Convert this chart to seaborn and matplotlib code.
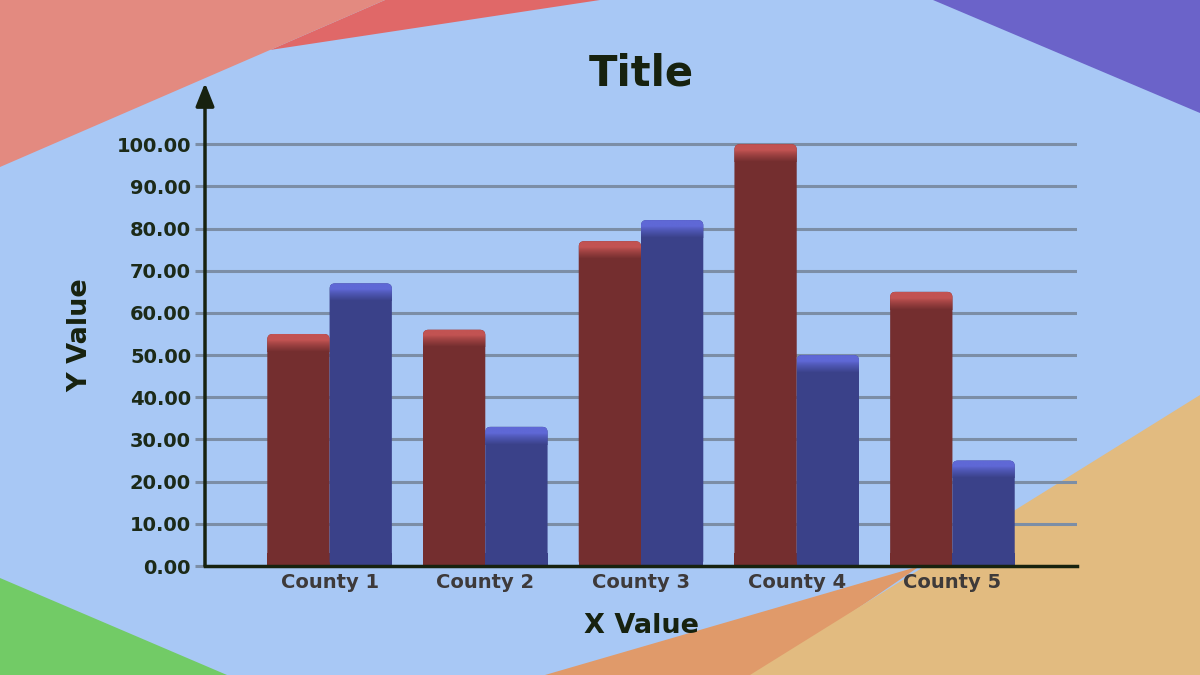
import numpy as np
import pandas as pd
import seaborn as sns
import matplotlib.pyplot as plt
from matplotlib.patches import Polygon, FancyBboxPatch, FancyArrowPatch
from matplotlib.colors import to_rgb

# Data
counties = ["County 1", "County 2", "County 3", "County 4", "County 5"]
series_a = [55, 56, 77, 100, 65]
series_b = [67, 33, 82, 50, 25]
series_names = ["Series A", "Series B"]
y_ticks = [0, 10, 20, 30, 40, 50, 60, 70, 80, 90, 100]

# Style
BG = "#a8c8f5"
BAR_COLORS = ["#742e2f", "#3a4189"]
CAP_COLORS = ["#c25352", "#5f68d6"]
AXIS_COLOR = "#17220f"
GRID_COLOR = "#7c8ea6"
FONT = ["DejaVu Sans"]

sns.set_theme(style="white")
plt.rcParams["font.family"] = FONT

df = pd.DataFrame({
    "county": counties * 2,
    "series": [series_names[0]] * len(counties) + [series_names[1]] * len(counties),
    "value": series_a + series_b,
})

fig = plt.figure(figsize=(12, 6.75), dpi=100)
fig.patch.set_facecolor(BG)

# decorative background shapes (pixel coords, y down)
bg = fig.add_axes([0, 0, 1, 1], zorder=-5)
bg.set_xlim(0, 1200)
bg.set_ylim(675, 0)
bg.axis("off")
shapes = [
    ([(270, 50), (385, 0), (600, 0)], "#e06868"),
    ([(0, 0), (385, 0), (270, 50), (0, 167)], "#e38a80"),
    ([(933, 0), (1200, 0), (1200, 113)], "#6b63c9"),
    ([(0, 578), (227, 675), (0, 675)], "#72cb66"),
    ([(545, 675), (920, 566), (760, 675)], "#e09a6a"),
    ([(750, 675), (1200, 395), (1200, 675)], "#e2bb80"),
]
for pts, col in shapes:
    bg.add_patch(Polygon(pts, closed=True, facecolor=col, edgecolor="none"))

ax = fig.add_axes([205 / 1200, 1 - 566 / 675, (1077 - 205) / 1200, (566 - 83) / 675])
ax.set_facecolor("none")

sns.barplot(data=df, x="county", y="value", hue="series", hue_order=series_names,
            palette=BAR_COLORS, width=0.8, legend=False, ax=ax, zorder=3)

XLIM = (-0.8, 4.8)
YLIM = (0, 114.5)

# rounded tops + lighter gradient cap
bars = list(ax.patches)
for i, bar in enumerate(bars):
    k = 0 if i < len(counties) else 1
    x, w, h = bar.get_x(), bar.get_width(), bar.get_height()
    bar.set_visible(False)
    fb = FancyBboxPatch((x, 0), w, h, boxstyle="round,pad=0,rounding_size=0.035",
                        mutation_aspect=36, facecolor=BAR_COLORS[k],
                        edgecolor="none", zorder=3)
    ax.add_patch(fb)
    # square off the bottom corners
    ax.bar(x + w / 2, min(h, 3), width=w, color=BAR_COLORS[k],
           edgecolor="none", linewidth=0, zorder=3)
    base = np.array(to_rgb(BAR_COLORS[k]))
    light = np.array(to_rgb(CAP_COLORS[k]))
    t = np.linspace(0, 1, 40)
    t = np.clip((t - 0.35) / 0.65, 0, 1) ** 0.8
    grad = light[None, :] * (1 - t[:, None]) + base[None, :] * t[:, None]
    cap = 4.2
    im = ax.imshow(grad[:, None, :], extent=(x, x + w, h - cap, h), origin="upper",
                   aspect="auto", interpolation="bilinear", zorder=4)
    im.set_clip_path(fb)

ax.set_xlim(*XLIM)
ax.set_ylim(*YLIM)

# grid + ticks
ax.set_yticks(y_ticks)
ax.set_yticklabels([f"{v:.2f}" for v in y_ticks])
for v in y_ticks[1:]:
    ax.axhline(v, color=GRID_COLOR, lw=2.2, zorder=1)
ax.tick_params(axis="y", length=7, width=2.2, color=GRID_COLOR, pad=3,
               labelsize=14, labelcolor="#1c2a18", left=True)
ax.tick_params(axis="x", length=0, pad=5, labelsize=14, labelcolor="#3e3a3a")
for lab in ax.get_yticklabels() + ax.get_xticklabels():
    lab.set_fontweight("bold")

for s in ["top", "right", "left"]:
    ax.spines[s].set_visible(False)
ax.spines["bottom"].set_color(AXIS_COLOR)
ax.spines["bottom"].set_linewidth(2.5)
ax.spines["bottom"].set_zorder(6)

arrow = FancyArrowPatch((0, 0), (0, 1), transform=ax.transAxes,
                        arrowstyle="-|>,head_length=0.7,head_width=0.28",
                        mutation_scale=20, color=AXIS_COLOR, lw=2.5,
                        shrinkA=0, shrinkB=0, clip_on=False, zorder=6)
ax.add_patch(arrow)

ax.set_xlabel("X Value", fontsize=19.5, fontweight="bold", color=AXIS_COLOR)
ax.set_ylabel("Y Value", fontsize=19.5, fontweight="bold", color=AXIS_COLOR)
ax.xaxis.set_label_coords(0.5, -0.097)
ax.yaxis.set_label_coords(-0.128, 0.478)
fig.text(641 / 1200, 1 - 73 / 675, "Title", fontsize=30, fontweight="bold",
         color=AXIS_COLOR, ha="center", va="center")

fig.savefig("out.png", dpi=100, facecolor=BG)
